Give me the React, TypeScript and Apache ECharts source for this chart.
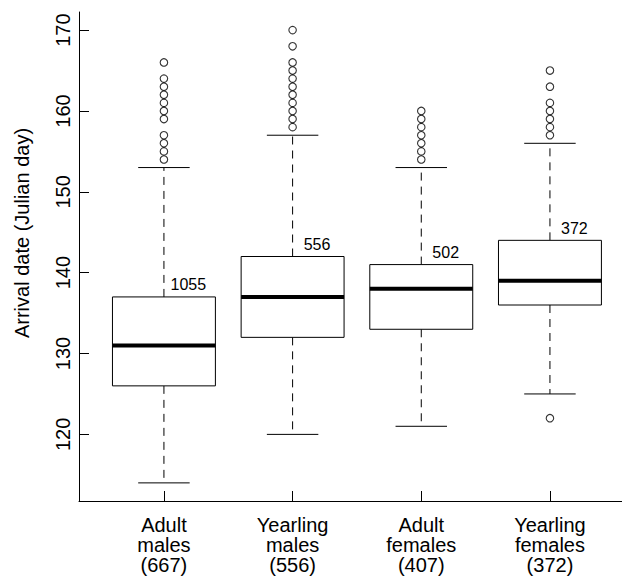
import React, { useEffect, useRef } from "react";
import * as echarts from "echarts";

// ---- data ----
const groupNames = ["Adult\nmales", "Yearling\nmales", "Adult\nfemales", "Yearling\nfemales"];
const groupSizes = [667, 556, 407, 372];
const lowerWhisker = [114, 120, 121, 125];
const q1 = [126, 132, 133, 136];
const median = [131, 137, 138, 139];
const q3 = [137, 142, 141, 144];
const upperWhisker = [153, 157, 153, 156];
const outliers = [
  [166, 164, 163, 162, 161, 160, 159, 157, 156, 155, 154],
  [170, 168, 166, 165, 164, 163, 162, 161, 160, 159, 158],
  [160, 159, 158, 157, 156, 155, 154],
  [165, 163, 161, 160, 159, 158, 157, 122],
];
const countLabels = [1055, 556, 502, 372];
const yTicks = [120, 130, 140, 150, 160, 170];
const xTicks = [1, 2, 3, 4];

const FONT = '"Liberation Sans", Arial, Helvetica, sans-serif';

export default function App() {
  const ref = useRef<HTMLDivElement>(null);
  useEffect(() => {
    if (!ref.current) return;
    const chart = echarts.init(ref.current, null, { renderer: "svg" });

    const boxData = groupNames.map((_, i) => [
      i + 1,
      lowerWhisker[i],
      q1[i],
      median[i],
      q3[i],
      upperWhisker[i],
    ]);
    const outlierData: number[][] = [];
    outliers.forEach((arr, i) => arr.forEach((v) => outlierData.push([i + 1, v])));
    const labelData = countLabels.map((c, i) => [i + 1, q3[i], c]);
    const xLabels = groupNames.map((n, i) => `${n}\n(${groupSizes[i]})`);

    chart.setOption({
      animation: false,
      backgroundColor: "#fff",
      textStyle: { fontFamily: FONT },
      grid: { left: 79, right: 0, top: 12, bottom: 79 },
      xAxis: {
        type: "value",
        min: 0.34,
        max: 4.56,
        axisLine: { show: true, onZero: false, lineStyle: { color: "#000", width: 1 } },
        axisTick: {
          show: true,
          inside: true,
          length: 10,
          customValues: xTicks,
          lineStyle: { color: "#000", width: 1 },
        },
        axisLabel: {
          customValues: xTicks,
          formatter: (v: number) => xLabels[Math.round(v) - 1] ?? "",
          color: "#000",
          fontSize: 20,
          lineHeight: 20,
          fontFamily: FONT,
          margin: 14,
        },
        splitLine: { show: false },
      },
      yAxis: {
        type: "value",
        min: 111.76,
        max: 172.24,
        axisLine: { show: true, onZero: false, lineStyle: { color: "#000", width: 1 } },
        axisTick: {
          show: true,
          inside: true,
          length: 10,
          customValues: yTicks,
          lineStyle: { color: "#000", width: 1 },
        },
        axisLabel: {
          customValues: yTicks,
          rotate: 90,
          color: "#000",
          fontSize: 20,
          fontFamily: FONT,
          margin: 6,
        },
        splitLine: { show: false },
      },
      graphic: [
        {
          type: "text",
          x: 22,
          y: 233,
          rotation: Math.PI / 2,
          style: {
            text: "Arrival date (Julian day)",
            fontSize: 20,
            fontFamily: FONT,
            fill: "#000",
            textAlign: "center",
            textVerticalAlign: "middle",
          },
        },
      ],
      series: [
        {
          type: "custom",
          data: boxData,
          encode: { x: 0, y: [1, 2, 3, 4, 5] },
          renderItem: (params: any, api: any) => {
            const x = api.value(0);
            const pLW = api.coord([x, api.value(1)]);
            const pQ1 = api.coord([x, api.value(2)]);
            const pMed = api.coord([x, api.value(3)]);
            const pQ3 = api.coord([x, api.value(4)]);
            const pUW = api.coord([x, api.value(5)]);
            const half = api.size([0.4, 0])[0];
            const cap = api.size([0.2, 0])[0];
            const cx = pMed[0];
            const line = { stroke: "#000", lineWidth: 1 };
            const dashed = { stroke: "#000", lineWidth: 1, lineDash: [8, 6] };
            return {
              type: "group",
              children: [
                { type: "line", shape: { x1: cx, y1: pQ3[1], x2: cx, y2: pUW[1] }, style: dashed },
                { type: "line", shape: { x1: cx, y1: pQ1[1], x2: cx, y2: pLW[1] }, style: dashed },
                { type: "line", shape: { x1: cx - cap, y1: pUW[1], x2: cx + cap, y2: pUW[1] }, style: line },
                { type: "line", shape: { x1: cx - cap, y1: pLW[1], x2: cx + cap, y2: pLW[1] }, style: line },
                {
                  type: "rect",
                  shape: { x: cx - half, y: pQ3[1], width: 2 * half, height: pQ1[1] - pQ3[1] },
                  style: { fill: "#fff", stroke: "#000", lineWidth: 1 },
                },
                {
                  type: "line",
                  shape: { x1: cx - half, y1: pMed[1], x2: cx + half, y2: pMed[1] },
                  style: { stroke: "#000", lineWidth: 4 },
                },
              ],
            };
          },
          z: 2,
        },
        {
          type: "scatter",
          data: outlierData,
          symbol: "circle",
          symbolSize: 7.5,
          itemStyle: { color: "rgba(0,0,0,0)", borderColor: "#000", borderWidth: 1.1 },
          z: 3,
        },
        {
          type: "custom",
          data: labelData,
          encode: { x: 0, y: 1 },
          renderItem: (params: any, api: any) => {
            const p = api.coord([api.value(0) + 0.19, api.value(1)]);
            return {
              type: "text",
              x: p[0],
              y: p[1] - 4,
              style: {
                text: String(api.value(2)),
                fontSize: 16,
                fontFamily: FONT,
                fill: "#000",
                textAlign: "center",
                textVerticalAlign: "bottom",
              },
            };
          },
          z: 4,
        },
      ],
    });
    return () => chart.dispose();
  }, []);

  return (
    <div
      ref={ref}
      style={{ position: "absolute", left: 0, top: 0, width: 622, height: 580, background: "#fff" }}
    />
  );
}
